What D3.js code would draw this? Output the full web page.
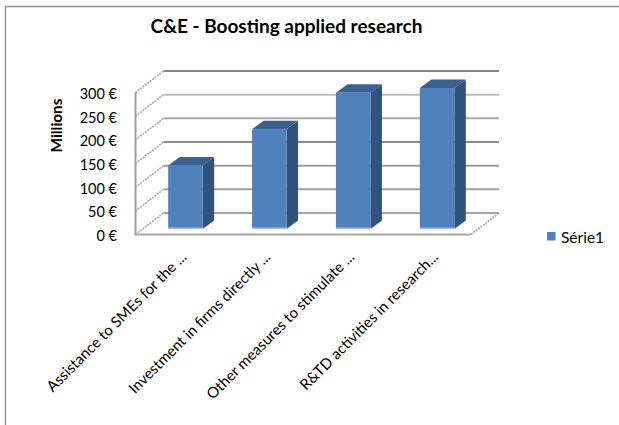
<!DOCTYPE html>
<html>
<head>
<meta charset="utf-8">
<script src="https://cdn.jsdelivr.net/npm/d3@7"></script>
<style>
  html, body { margin: 0; padding: 0; background: #fff; }
  svg { display: block; }
  text { font-family: Lato, "Open Sans", sans-serif; fill: #000; }
</style>
</head>
<body>
<svg id="chart" width="619" height="425"></svg>
<script>
// Chart data, in millions of euros
const categories = [
  "Assistance to SMEs for the ...",
  "Investment in firms directly ...",
  "Other measures to stimulate ...",
  "R&TD activities in research..."
];
const seriesName = "Série1";
const values = [134, 211, 288, 298];
const tickValues = [0, 50, 100, 150, 200, 250, 300];
const gridColors = ["#a4a4a4", "#a0a0a0", "#9c9c9c", "#8c8c8c", "#a8a8a8", "#bdbdbd", "#868686"];

const svg = d3.select("#chart");

// Front plane of the 3D box
const y = d3.scaleLinear().domain([0, 300]).range([234.5, 92.5]);
const x = d3.scaleBand().domain(categories).range([135.5, 471]);

// Projection offsets: full box depth, and the depth at which the bars sit
const depthX = 28, depthY = -21.5;
const barOffsetX = 8, barOffsetY = -5.5;
const barWidth = 34.5, barDepthX = 11.5, barDepthY = -8.5;
const xRight = x.range()[1];

// Outer chart frame, open on the right and at the bottom
svg.append("path")
  .attr("d", "M5.5,425V6.5H619")
  .attr("fill", "none").attr("stroke", "#8f8f8f").attr("stroke-width", 1.4);

// Gridlines on the back wall
svg.append("g").selectAll("line").data(tickValues).join("line")
  .attr("x1", x.range()[0] + depthX)
  .attr("x2", xRight + depthX)
  .attr("y1", d => y(d) + depthY)
  .attr("y2", d => y(d) + depthY)
  .attr("stroke", (d, i) => gridColors[i])
  .attr("stroke-width", 2);

// Gridlines running across the left wall
svg.append("g").selectAll("line").data(tickValues).join("line")
  .attr("x1", x.range()[0])
  .attr("x2", x.range()[0] + depthX)
  .attr("y1", d => y(d))
  .attr("y2", d => y(d) + depthY)
  .attr("stroke", "#a6a6a6")
  .attr("stroke-width", 1.6)
  .attr("stroke-dasharray", "2 1");

// Floor edge on the right
svg.append("line")
  .attr("x1", xRight).attr("y1", y(0))
  .attr("x2", xRight + depthX).attr("y2", y(0) + depthY)
  .attr("stroke", "#a6a6a6").attr("stroke-width", 1.6).attr("stroke-dasharray", "2 1");

// Front axis lines
svg.append("line")
  .attr("x1", x.range()[0]).attr("x2", x.range()[0])
  .attr("y1", y(300)).attr("y2", y(0) + 1)
  .attr("stroke", "#a0a0a0").attr("stroke-width", 2);
svg.append("line")
  .attr("x1", x.range()[0] - 1).attr("x2", xRight)
  .attr("y1", y(0)).attr("y2", y(0))
  .attr("stroke", "#a8a8a8").attr("stroke-width", 2);

// Bars: side, top, front and the pale strip along the base
const bars = svg.append("g").selectAll("g").data(categories).join("g")
  .attr("transform", d => `translate(${x(d) + x.bandwidth() / 2 + barOffsetX - barWidth / 2},${barOffsetY})`);
const valueOf = (d, i) => y(values[i]);

bars.append("path")
  .attr("fill", "#30527b")
  .attr("d", (d, i) => {
    const t = valueOf(d, i), b = y(0);
    return `M${barWidth},${t}l${barDepthX},${barDepthY}V${b + barDepthY}l${-barDepthX},${-barDepthY}Z`;
  });
bars.append("path")
  .attr("fill", "#3c6090")
  .attr("d", (d, i) => {
    const t = valueOf(d, i);
    return `M0,${t}l${barDepthX},${barDepthY}h${barWidth}l${-barDepthX},${-barDepthY}Z`;
  });
bars.append("rect")
  .attr("width", barWidth)
  .attr("y", (d, i) => valueOf(d, i))
  .attr("height", (d, i) => y(0) - valueOf(d, i))
  .attr("fill", "#4f81bd");
bars.append("rect")
  .attr("width", barWidth + 1)
  .attr("y", y(0) - 1.5)
  .attr("height", 1.5)
  .attr("fill", "#a3bcdb");

// Value axis labels
svg.append("g").selectAll("text").data(tickValues).join("text")
  .attr("x", 117)
  .attr("y", d => y(d) + 1.5)
  .attr("dy", "0.35em")
  .attr("text-anchor", "end")
  .attr("font-size", 14.5)
  .text(d => `${d} €`);

// Category labels, rotated
svg.append("g").selectAll("text").data(categories).join("text")
  .attr("text-anchor", "end")
  .attr("font-size", 15)
  .attr("transform", d => `translate(${x(d) + x.bandwidth() / 2 + 10},258) rotate(-45)`)
  .text(d => d);

// Titles
svg.append("text")
  .attr("x", 286.5).attr("y", 33)
  .attr("text-anchor", "middle")
  .attr("font-size", 19).attr("font-weight", 700)
  .text("C&E - Boosting applied research");
svg.append("text")
  .attr("transform", "translate(62,125.5) rotate(-90)")
  .attr("text-anchor", "middle")
  .attr("font-size", 15.3).attr("font-weight", 700)
  .text("Millions");

// Legend
svg.append("rect")
  .attr("x", 547).attr("y", 232).attr("width", 8.5).attr("height", 8.5)
  .attr("fill", "#4f81bd");
svg.append("text")
  .attr("x", 561).attr("y", 243)
  .attr("font-size", 15.5)
  .text(seriesName);
</script>
</body>
</html>
